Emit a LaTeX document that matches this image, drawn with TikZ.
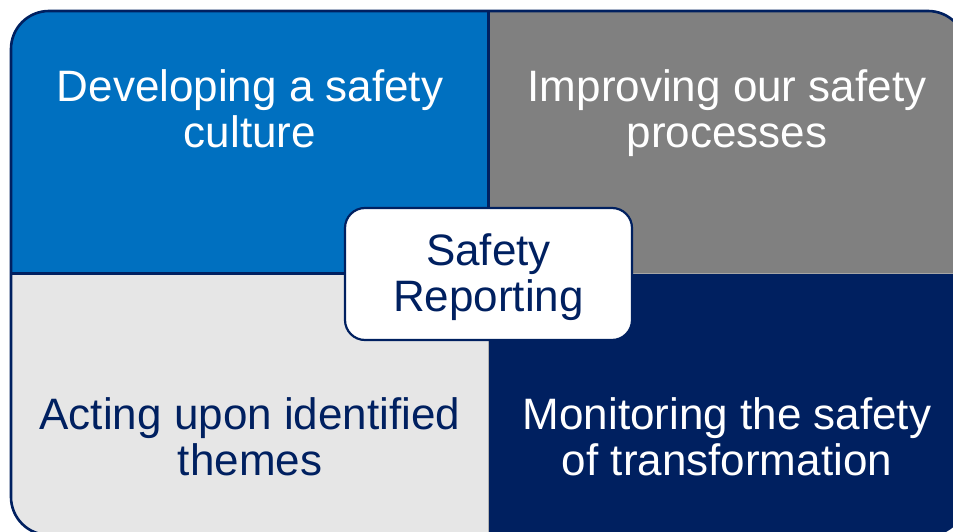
\documentclass[tikz,border=0pt]{standalone}
\usepackage{fontspec}
\setmainfont{Liberation Sans}
\definecolor{qblue}{HTML}{0070C0}
\definecolor{qgray}{HTML}{808080}
\definecolor{qlight}{HTML}{E6E6E6}
\definecolor{qnavy}{HTML}{002060}
\tikzset{
  quadtext/.style={align=center, text=white, font=\fontsize{44}{46}\selectfont, inner sep=0pt},
  hubbox/.style={draw=qnavy, line width=2.2pt, fill=white, rounded corners=20pt,
    minimum width=287pt, minimum height=132pt, inner sep=0pt},
  hubtext/.style={align=center, text=qnavy, font=\fontsize{44}{46}\selectfont, inner sep=0pt},
}
\begin{document}
\begin{tikzpicture}[x=1pt,y=-1pt]
\useasboundingbox (0,0) rectangle (953,532);
\fill[white] (0,0) rectangle (953,532);
% four quadrants clipped to the rounded outer frame
\begin{scope}
  \clip[rounded corners=38pt] (11,11) rectangle (966,535);
  \fill[qblue]  (0,0)     rectangle (488,273);
  \fill[qgray]  (488,0)   rectangle (980,273);
  \fill[qlight] (0,273)   rectangle (488,540);
  \fill[qnavy]  (488,273) rectangle (980,540);
  % dividers
  \draw[qnavy, line width=3pt] (0,273) -- (488,273);
  \draw[qnavy, line width=3pt] (488,0) -- (488,273);
  \draw[qgray!70, line width=0.8pt] (488,273) -- (980,273);
  \draw[qgray!60, line width=0.8pt] (488,273) -- (488,540);
\end{scope}
\draw[qnavy, line width=2.6pt, rounded corners=38pt] (11,11) rectangle (966,535);
% quadrant labels
\node[quadtext] (culture) at (250,109) {Developing a safety\\culture};
\node[quadtext] (process) at (727,113) {Improving our safety\\processes};
\node[quadtext, text=qnavy] (themes) at (250,437) {Acting upon identified\\themes};
\node[quadtext] (monitor) at (727,437) {Monitoring the safety\\of transformation};
% central hub
\node[hubbox] (hub) at (488.5,274) {};
\node[hubtext] (hublabel) at (hub.center) [yshift=-3pt] {Safety\\Reporting};
\end{tikzpicture}
\end{document}
